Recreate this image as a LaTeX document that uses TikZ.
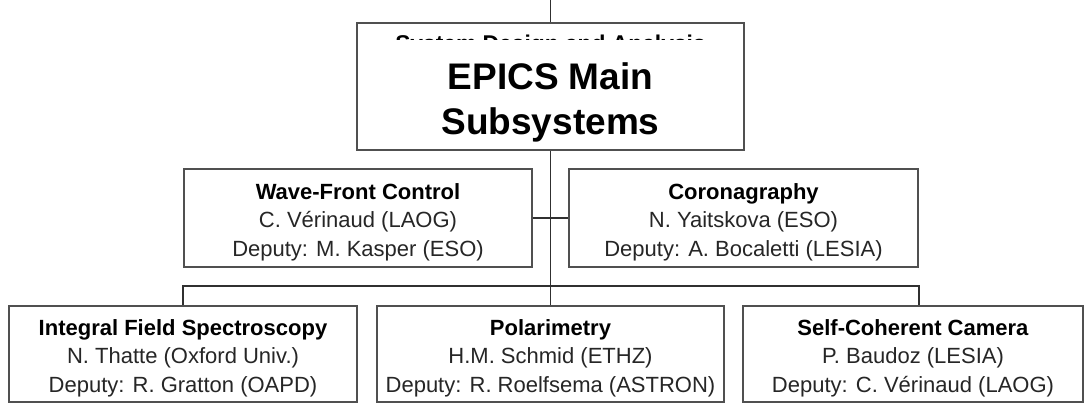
\documentclass[tikz,border=0pt]{standalone}
\usepackage{fontspec}
\setmainfont{Liberation Sans}
\usepackage{tikz}

\definecolor{boxgray}{HTML}{505050}
\definecolor{linegray}{HTML}{303030}
\definecolor{txtgray}{HTML}{262626}

% title line, lead, deputy
\newcommand{\wpname}[3]{\rule{0pt}{24pt}\textbf{#1}\\{\color{txtgray}#2}\\{\color{txtgray}#3}}

\begin{document}
\begin{tikzpicture}[x=1pt, y=-1pt,
  box/.style={draw=boxgray, line width=1.6pt, fill=white, align=center,
    inner sep=0pt, font=\fontsize{22}{28.5}\selectfont},
  link/.style={draw=linegray, line width=1.5pt}]
  \useasboundingbox (0,0) rectangle (1087,404);

  % top box with the old heading hidden under a white panel
  \node[box, minimum width=387, minimum height=127] (top) at (550.5, 86.5) {};
  \begin{scope}
    \clip (359,25) rectangle (742,40);
    \node[anchor=base, font=\bfseries\fontsize{22.8}{28}\selectfont] (sda) at (550.5, 52) {System Design and Analysis};
  \end{scope}
  \node[fill=white, minimum width=382, minimum height=108, inner sep=0pt] (mask) at (550.5, 94.5) {};
  \node[align=center, inner sep=0pt, font=\bfseries\fontsize{37}{45}\selectfont] (title) at (550.5, 102) {EPICS Main\\Subsystems};

  \node[box, minimum width=348, minimum height=98] (wfc) at (358, 218)
    {\wpname{Wave-Front Control}{C. Vérinaud (LAOG)}{Deputy: M. Kasper (ESO)}};
  \node[box, minimum width=349, minimum height=98] (cor) at (743.5, 218)
    {\wpname{Coronagraphy}{N. Yaitskova (ESO)}{Deputy: A. Bocaletti (LESIA)}};

  \node[box, minimum width=348, minimum height=96] (ifs) at (183, 354)
    {\wpname{Integral Field Spectroscopy}{N. Thatte (Oxford Univ.)}{Deputy: R. Gratton (OAPD)}};
  \node[box, minimum width=347, minimum height=96] (pol) at (550.5, 354)
    {\wpname{Polarimetry}{H.M. Schmid (ETHZ)}{Deputy: R. Roelfsema (ASTRON)}};
  \node[box, minimum width=340, minimum height=96] (scc) at (913, 354)
    {\wpname{Self-Coherent Camera}{P. Baudoz (LESIA)}{Deputy: C. Vérinaud (LAOG)}};

  % connectors
  \coordinate (feed) at (550.5, 0);
  \draw[link] (feed) -- (top.north);
  \draw[link] (top.south) -- (pol.north);
  \draw[link] (wfc.east) -- (cor.west);
  \draw[link] (ifs.north) -- ++(0,-19) -| (scc.north -| cor.east);
\end{tikzpicture}
\end{document}
